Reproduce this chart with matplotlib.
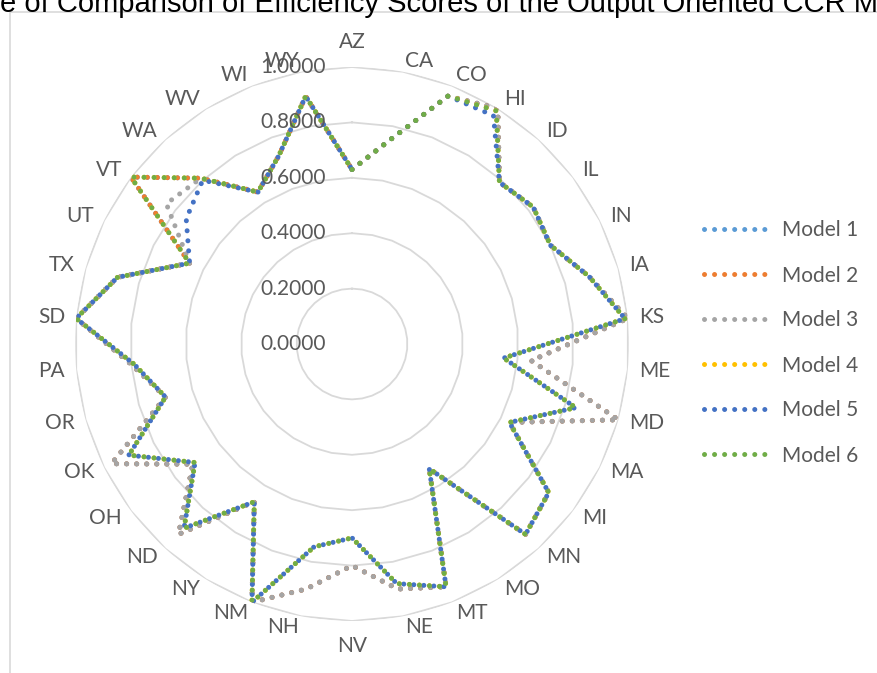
import numpy as np
import matplotlib.pyplot as plt
from matplotlib.patches import Rectangle

# Estados (categorias del radar), en el orden del grafico, empezando arriba y en sentido horario
states = ['AZ', 'CA', 'CO', 'HI', 'ID', 'IL', 'IN', 'IA', 'KS', 'ME', 'MD', 'MA',
          'MI', 'MN', 'MO', 'MT', 'NE', 'NV', 'NH', 'NM', 'NY', 'ND', 'OH', 'OK',
          'OR', 'PA', 'SD', 'TX', 'UT', 'VT', 'WA', 'WV', 'WI', 'WY']

model_1 = [0.63, 0.75, 0.96, 1.00, 0.79, 0.82, 0.80, 0.89, 1.00, 0.65, 1.00, 0.635,
           0.89, 0.93, 0.53, 0.94, 0.90, 0.80, 0.90, 1.00, 0.67, 0.93, 0.72, 0.97,
           0.70, 0.80, 1.00, 0.88, 0.655, 1.00, 0.81, 0.645, 0.73, 0.91]
model_2 = [0.63, 0.75, 0.96, 1.00, 0.79, 0.82, 0.80, 0.89, 1.00, 0.65, 1.00, 0.635,
           0.89, 0.93, 0.53, 0.94, 0.90, 0.80, 0.90, 1.00, 0.67, 0.93, 0.72, 0.97,
           0.70, 0.80, 1.00, 0.88, 0.655, 1.00, 0.81, 0.645, 0.73, 0.91]
model_3 = [0.63, 0.75, 0.96, 1.00, 0.79, 0.82, 0.80, 0.89, 1.00, 0.65, 1.00, 0.635,
           0.89, 0.93, 0.53, 0.94, 0.90, 0.80, 0.90, 1.00, 0.67, 0.93, 0.72, 0.97,
           0.70, 0.80, 1.00, 0.88, 0.655, 0.84, 0.81, 0.645, 0.73, 0.91]
model_4 = [0.63, 0.75, 0.96, 0.99, 0.79, 0.82, 0.80, 0.89, 0.99, 0.55, 0.84, 0.635,
           0.89, 0.93, 0.53, 0.94, 0.88, 0.70, 0.745, 1.00, 0.67, 0.90, 0.71, 0.90,
           0.70, 0.79, 1.00, 0.88, 0.655, 1.00, 0.81, 0.645, 0.73, 0.91]
model_5 = [0.63, 0.75, 0.96, 0.97, 0.79, 0.82, 0.80, 0.89, 0.99, 0.55, 0.84, 0.635,
           0.89, 0.93, 0.53, 0.94, 0.88, 0.70, 0.745, 1.00, 0.67, 0.90, 0.71, 0.90,
           0.70, 0.79, 1.00, 0.88, 0.655, 0.75, 0.80, 0.645, 0.73, 0.91]
model_6 = [0.63, 0.75, 0.96, 0.99, 0.79, 0.82, 0.80, 0.89, 0.99, 0.55, 0.84, 0.635,
           0.89, 0.93, 0.53, 0.94, 0.88, 0.70, 0.745, 1.00, 0.67, 0.90, 0.71, 0.90,
           0.70, 0.79, 1.00, 0.88, 0.655, 1.00, 0.81, 0.645, 0.73, 0.91]

models = [model_1, model_2, model_3, model_4, model_5, model_6]
names = ['Model 1', 'Model 2', 'Model 3', 'Model 4', 'Model 5', 'Model 6']
colors = ['#5B9BD5', '#ED7D31', '#A5A5A5', '#FFC000', '#4472C4', '#70AD47']
levels = [0.0, 0.2, 0.4, 0.6, 0.8, 1.0]

text_color = '#595959'
grid_color = '#D9D9D9'
plt.rcParams['font.family'] = ['Lato', 'DejaVu Sans']

fig = plt.figure(figsize=(8.78, 6.73), dpi=100)

# Marco del area del grafico (solo se ven el borde izquierdo y el superior)
fig.patches.append(Rectangle((10 / 878, -0.1), 1.2, 1.1 - 12 / 673,
                             transform=fig.transFigure, fill=False,
                             edgecolor=grid_color, lw=1.2))

# Titulo recortado por arriba, como en la imagen original
fig.text(0.0, 1 - 12 / 673, 'e of Comparison of Efficiency Scores of the Output Oriented CCR Models',
         ha='left', va='baseline', fontsize=21, color='black', family='Liberation Sans')

ax = fig.add_axes([75 / 878, 52 / 673, 554 / 878, 554 / 673], projection='polar')
ax.set_theta_zero_location('N')
ax.set_theta_direction(-1)
ax.set_ylim(0, 1)
ax.set_xticks([])
ax.set_yticks([])
ax.grid(False)
ax.spines['polar'].set_visible(False)
ax.patch.set_alpha(0)

n = len(states)
theta = np.arange(n) * 2 * np.pi / n
theta_closed = np.append(theta, theta[0])

# Rejilla poligonal estilo Excel
for lv in levels[1:]:
    ax.plot(theta_closed, [lv] * (n + 1), color=grid_color, lw=1.3, zorder=1)

# Series punteadas (puntos redondos)
for vals, name, c in zip(models, names, colors):
    ax.plot(theta_closed, vals + vals[:1], color=c, lw=3.6, label=name,
            linestyle=(0, (0.01, 2.0)), dash_capstyle='round', zorder=3)

# Etiquetas de categorias: a los lados alineadas a izquierda/derecha, arriba y abajo centradas
for t, s in zip(theta, states):
    sx = np.sin(t)
    if abs(sx) < 1e-6:
        va = 'bottom' if np.cos(t) > 0 else 'top'
        ax.text(t, 1.055, s, ha='center', va=va, fontsize=15, color=text_color)
    else:
        ha = 'left' if sx > 0 else 'right'
        ax.text(t, 1.04, s, ha=ha, va='center', fontsize=15, color=text_color)

# Etiquetas del eje de valores
for lv in levels:
    ax.annotate(f'{lv:.4f}', xy=(0, lv), xytext=(-26, 0), textcoords='offset pixels',
                ha='right', va='center', fontsize=15, color=text_color)

fig.legend(loc='center left', bbox_to_anchor=(704 / 878, 1 - 343 / 673),
           frameon=False, fontsize=15, labelcolor=text_color, handlelength=3.3,
           handletextpad=0.45, labelspacing=1.2, borderpad=0, borderaxespad=0)

fig.savefig('out.png', dpi=100)
